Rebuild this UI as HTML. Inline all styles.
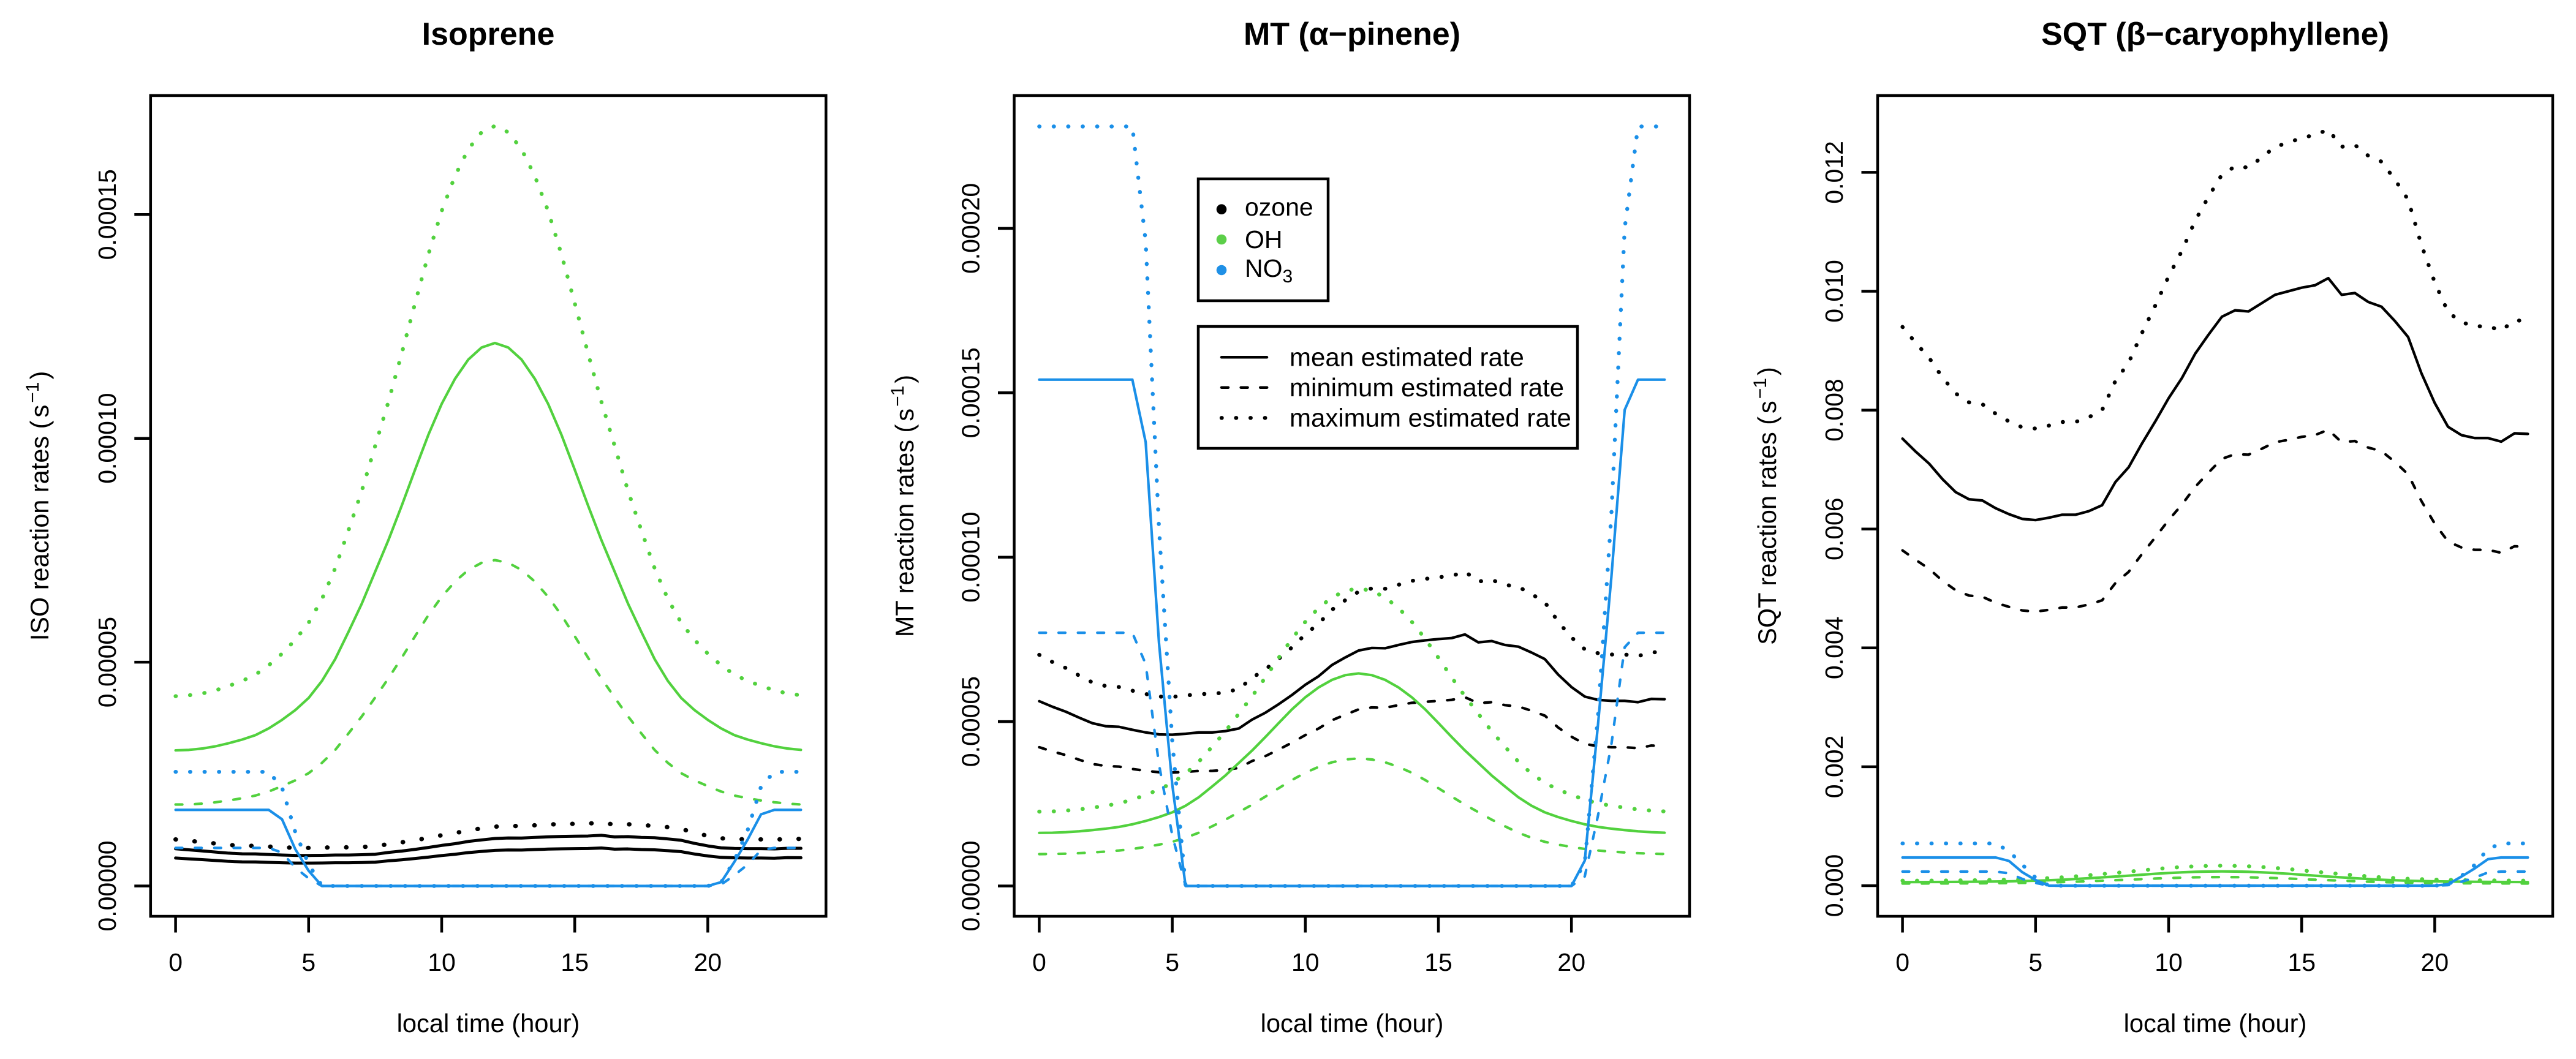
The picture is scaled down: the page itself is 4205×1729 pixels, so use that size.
<!DOCTYPE html>
<html>
<head>
<meta charset="utf-8">
<title>BVOC reaction rates</title>
<style>
html,body{margin:0;padding:0;background:#fff;width:4205px;height:1729px;overflow:hidden}
svg{display:block}
text{font-family:"Liberation Sans",Arial,sans-serif;fill:#000}
</style>
</head>
<body>
<svg id="chart" xmlns="http://www.w3.org/2000/svg" width="4205" height="1729" viewBox="0 0 4205 1729">
  <rect x="0" y="0" width="4205" height="1729" fill="#fff"/>

  <text x="797" y="73" font-size="52" font-weight="bold" text-anchor="middle">Isoprene</text>
  <text x="2207" y="73" font-size="52" font-weight="bold" text-anchor="middle">MT (α−pinene)</text>
  <text x="3616" y="73" font-size="52" font-weight="bold" text-anchor="middle">SQT (β−caryophyllene)</text>

  <text x="797" y="1685" font-size="41.7" text-anchor="middle">local time (hour)</text>
  <text x="2207" y="1685" font-size="41.7" text-anchor="middle">local time (hour)</text>
  <text x="3616" y="1685" font-size="41.7" text-anchor="middle">local time (hour)</text>

  <text transform="translate(79,826) rotate(-90)" font-size="41.5" text-anchor="middle">ISO reaction rates (<tspan dx="5">s</tspan><tspan dy="-16" dx="3" font-size="30">−1</tspan><tspan dy="16" dx="4">)</tspan></text>
  <text transform="translate(1491,826) rotate(-90)" font-size="41.5" text-anchor="middle">MT reaction rates (<tspan dx="5">s</tspan><tspan dy="-16" dx="3" font-size="30">−1</tspan><tspan dy="16" dx="4">)</tspan></text>
  <text transform="translate(2899,826) rotate(-90)" font-size="41.5" text-anchor="middle">SQT reaction rates (<tspan dx="5">s</tspan><tspan dy="-16" dx="3" font-size="30">−1</tspan><tspan dy="16" dx="4">)</tspan></text>

  <g id="plots"></g>

  <g>
    <rect x="1956" y="292" width="212" height="199" fill="#fff" stroke="#000" stroke-width="4.5"/>
    <circle cx="1994" cy="341.7" r="8.3" fill="#000"/>
    <circle cx="1994" cy="391" r="8.3" fill="#5ccf49"/>
    <circle cx="1994" cy="441" r="8.3" fill="#1f90e6"/>
    <text x="2032" y="352" font-size="41">ozone</text>
    <text x="2032" y="405" font-size="41">OH</text>
    <text x="2032" y="452" font-size="41">NO<tspan dy="9" font-size="30">3</tspan></text>
  </g>
  <g>
    <rect x="1956" y="533" width="619" height="199" fill="#fff" stroke="#000" stroke-width="4.5"/>
    <line x1="1994" x2="2068" y1="583.3" y2="583.3" stroke="#000" stroke-width="4.5" stroke-linecap="round"/>
    <line x1="1994" x2="2070" y1="632.7" y2="632.7" stroke="#000" stroke-width="4.5" stroke-linecap="round" stroke-dasharray="11 20.6"/>
    <line x1="1994" x2="2070" y1="682.3" y2="682.3" stroke="#000" stroke-width="6.4" stroke-linecap="round" stroke-dasharray="0.5 23.1"/>
    <text x="2105" y="597.5" font-size="42">mean estimated rate</text>
    <text x="2105" y="647" font-size="42">minimum estimated rate</text>
    <text x="2105" y="696.5" font-size="42">maximum estimated rate</text>
  </g>
</svg>

<script>
const hours = [0,0.5,1,1.5,2,2.5,3,3.5,4,4.5,5,5.5,6,6.5,7,7.5,8,8.5,9,9.5,10,10.5,11,11.5,12,12.5,13,13.5,14,14.5,15,15.5,16,16.5,17,17.5,18,18.5,19,19.5,20,20.5,21,21.5,22,22.5,23,23.5];
const xTickValues = [0,5,10,15,20];
const xTickLabels = ["0","5","10","15","20"];

// Isoprene, in units of 1e-5 s-1
const isoTickValues = [0,5,10,15];
const isoTickLabels = ["0.00000","0.00005","0.00010","0.00015"];
const isoOzoneMean = [0.832,0.807,0.784,0.758,0.733,0.719,0.716,0.703,0.691,0.682,0.681,0.685,0.691,0.691,0.697,0.709,0.749,0.780,0.818,0.860,0.906,0.944,0.995,1.029,1.060,1.072,1.070,1.085,1.098,1.106,1.111,1.116,1.132,1.097,1.103,1.085,1.077,1.051,1.021,0.952,0.895,0.852,0.838,0.833,0.833,0.827,0.842,0.841];
const isoOzoneMin = [0.624,0.605,0.588,0.569,0.550,0.539,0.537,0.527,0.518,0.512,0.511,0.514,0.518,0.518,0.523,0.532,0.562,0.585,0.614,0.645,0.680,0.708,0.746,0.772,0.795,0.804,0.803,0.814,0.824,0.830,0.833,0.837,0.849,0.823,0.827,0.814,0.808,0.788,0.766,0.714,0.671,0.639,0.629,0.625,0.625,0.620,0.632,0.631];
const isoOzoneMax = [1.04,1.009,0.98,0.948,0.916,0.899,0.895,0.879,0.864,0.853,0.851,0.856,0.864,0.864,0.871,0.886,0.936,0.975,1.023,1.075,1.133,1.18,1.244,1.286,1.325,1.34,1.338,1.356,1.373,1.383,1.389,1.395,1.415,1.371,1.379,1.356,1.346,1.314,1.276,1.19,1.119,1.065,1.048,1.041,1.041,1.034,1.053,1.051];
const isoOhMean = [3.03,3.04,3.07,3.12,3.19,3.27,3.37,3.52,3.71,3.93,4.2,4.58,5.07,5.68,6.31,7.02,7.73,8.5,9.3,10.08,10.77,11.33,11.76,12.03,12.13,12.03,11.76,11.33,10.77,10.08,9.3,8.5,7.73,7.02,6.31,5.68,5.07,4.58,4.2,3.93,3.71,3.52,3.37,3.27,3.19,3.12,3.07,3.04];
const isoOhMin = [1.82,1.82,1.84,1.87,1.91,1.96,2.02,2.11,2.23,2.36,2.52,2.75,3.04,3.41,3.79,4.21,4.64,5.10,5.58,6.05,6.46,6.80,7.06,7.22,7.28,7.22,7.06,6.80,6.46,6.05,5.58,5.10,4.64,4.21,3.79,3.41,3.04,2.75,2.52,2.36,2.23,2.11,2.02,1.96,1.91,1.87,1.84,1.82];
const isoOhMax = [4.24,4.26,4.30,4.37,4.47,4.58,4.72,4.93,5.19,5.50,5.88,6.41,7.10,7.95,8.83,9.83,10.82,11.90,13.02,14.11,15.08,15.86,16.46,16.84,16.98,16.84,16.46,15.86,15.08,14.11,13.02,11.90,10.82,9.83,8.83,7.95,7.10,6.41,5.88,5.50,5.19,4.93,4.72,4.58,4.47,4.37,4.30,4.26];
const isoNo3Mean = [1.7,1.7,1.7,1.7,1.7,1.7,1.7,1.7,1.49,0.82,0.34,0,0,0,0,0,0,0,0,0,0,0,0,0,0,0,0,0,0,0,0,0,0,0,0,0,0,0,0,0,0,0.085,0.54,1.04,1.6,1.7,1.7,1.7];
const isoNo3Min = [0.85,0.85,0.85,0.85,0.85,0.85,0.85,0.85,0.745,0.41,0.17,0,0,0,0,0,0,0,0,0,0,0,0,0,0,0,0,0,0,0,0,0,0,0,0,0,0,0,0,0,0,0.032,0.24,0.48,0.8,0.85,0.85,0.85];
const isoNo3Max = [2.55,2.55,2.55,2.55,2.55,2.55,2.55,2.55,2.2,1.2,0.49,0,0,0,0,0,0,0,0,0,0,0,0,0,0,0,0,0,0,0,0,0,0,0,0,0,0,0,0,0,0,0.08,0.57,1.25,2.22,2.55,2.55,2.55];

// Monoterpene, in units of 1e-5 s-1
const mtTickValues = [0,5,10,15,20];
const mtTickLabels = ["0.00000","0.00005","0.00010","0.00015","0.00020"];
const mtOzoneMean = [5.62,5.45,5.30,5.12,4.95,4.86,4.84,4.75,4.67,4.61,4.60,4.63,4.67,4.67,4.71,4.79,5.06,5.27,5.53,5.81,6.12,6.38,6.72,6.95,7.16,7.24,7.23,7.33,7.42,7.47,7.51,7.54,7.65,7.41,7.45,7.33,7.28,7.10,6.90,6.43,6.05,5.76,5.66,5.63,5.63,5.59,5.69,5.68];
const mtOzoneMin = [4.22,4.09,3.98,3.84,3.71,3.65,3.63,3.56,3.50,3.46,3.45,3.47,3.50,3.50,3.53,3.59,3.80,3.95,4.15,4.36,4.59,4.79,5.04,5.21,5.37,5.43,5.42,5.50,5.57,5.60,5.63,5.66,5.74,5.56,5.59,5.50,5.46,5.33,5.18,4.82,4.54,4.32,4.25,4.22,4.22,4.19,4.27,4.26];
const mtOzoneMax = [7.03,6.81,6.63,6.40,6.19,6.08,6.05,5.94,5.84,5.76,5.75,5.79,5.84,5.84,5.89,5.99,6.33,6.59,6.91,7.26,7.65,7.98,8.40,8.69,8.95,9.05,9.04,9.16,9.28,9.34,9.39,9.43,9.56,9.26,9.31,9.16,9.10,8.88,8.63,8.04,7.56,7.20,7.08,7.04,7.04,6.99,7.11,7.10];
const mtOhMean = [1.615,1.62,1.636,1.663,1.70,1.743,1.796,1.876,1.977,2.095,2.239,2.441,2.702,3.027,3.363,3.742,4.12,4.531,4.957,5.373,5.74,6.039,6.268,6.412,6.465,6.412,6.268,6.039,5.74,5.373,4.957,4.531,4.12,3.742,3.363,3.027,2.702,2.441,2.239,2.095,1.977,1.876,1.796,1.743,1.70,1.663,1.636,1.62];
const mtOhMin = [0.969,0.972,0.982,0.998,1.02,1.046,1.078,1.126,1.186,1.257,1.343,1.465,1.621,1.816,2.018,2.245,2.472,2.719,2.974,3.224,3.444,3.623,3.761,3.847,3.879,3.847,3.761,3.623,3.444,3.224,2.974,2.719,2.472,2.245,2.018,1.816,1.621,1.465,1.343,1.257,1.186,1.126,1.078,1.046,1.02,0.998,0.982,0.972];
const mtOhMax = [2.261,2.268,2.29,2.328,2.38,2.44,2.514,2.626,2.768,2.933,3.135,3.417,3.783,4.238,4.708,5.239,5.768,6.343,6.94,7.522,8.036,8.455,8.775,8.977,9.051,8.977,8.775,8.455,8.036,7.522,6.94,6.343,5.768,5.239,4.708,4.238,3.783,3.417,3.135,2.933,2.768,2.626,2.514,2.44,2.38,2.328,2.29,2.268];
const mtNo3Mean = [15.4,15.4,15.4,15.4,15.4,15.4,15.4,15.4,13.5,7.4,3.08,0,0,0,0,0,0,0,0,0,0,0,0,0,0,0,0,0,0,0,0,0,0,0,0,0,0,0,0,0,0,0.77,4.93,9.39,14.48,15.4,15.4,15.4];
const mtNo3Min = [7.7,7.7,7.7,7.7,7.7,7.7,7.7,7.7,6.75,3.7,1.54,0,0,0,0,0,0,0,0,0,0,0,0,0,0,0,0,0,0,0,0,0,0,0,0,0,0,0,0,0,0,0.29,2.15,4.3,7.26,7.7,7.7,7.7];
const mtNo3Max = [23.1,23.1,23.1,23.1,23.1,23.1,23.1,23.1,19.6,10.9,4.4,0,0,0,0,0,0,0,0,0,0,0,0,0,0,0,0,0,0,0,0,0,0,0,0,0,0,0,0,0,0,0.7,5.2,11.3,20.0,23.1,23.1,23.1];

// Sesquiterpene, in units of 1e-3 s-1
const sqtTickValues = [0,2,4,6,8,10,12];
const sqtTickLabels = ["0.000","0.002","0.004","0.006","0.008","0.010","0.012"];
const sqtOzoneMean = [7.52,7.30,7.10,6.84,6.62,6.50,6.48,6.35,6.25,6.17,6.15,6.19,6.24,6.24,6.30,6.40,6.79,7.04,7.44,7.81,8.20,8.54,8.95,9.27,9.57,9.68,9.66,9.80,9.94,10.00,10.06,10.10,10.22,9.94,9.97,9.82,9.74,9.50,9.23,8.62,8.12,7.72,7.58,7.53,7.53,7.47,7.61,7.60];
const sqtOzoneMin = [5.64,5.48,5.33,5.13,4.97,4.88,4.86,4.76,4.69,4.63,4.61,4.64,4.68,4.68,4.73,4.80,5.09,5.28,5.58,5.86,6.15,6.41,6.71,6.95,7.18,7.26,7.25,7.35,7.46,7.50,7.55,7.58,7.67,7.46,7.48,7.37,7.31,7.13,6.92,6.47,6.09,5.79,5.69,5.65,5.65,5.60,5.71,5.70];
const sqtOzoneMax = [9.40,9.13,8.88,8.55,8.28,8.13,8.10,7.94,7.81,7.71,7.69,7.74,7.80,7.80,7.88,8.00,8.49,8.80,9.30,9.76,10.25,10.68,11.19,11.59,11.96,12.10,12.08,12.25,12.43,12.50,12.58,12.63,12.72,12.43,12.46,12.28,12.18,11.88,11.54,10.78,10.15,9.65,9.48,9.41,9.41,9.34,9.51,9.50];
const sqtOhMean = [0.060,0.060,0.061,0.062,0.063,0.065,0.067,0.070,0.073,0.078,0.083,0.091,0.100,0.112,0.125,0.139,0.153,0.168,0.184,0.200,0.213,0.224,0.233,0.238,0.240,0.238,0.233,0.224,0.213,0.200,0.184,0.168,0.153,0.139,0.125,0.112,0.100,0.091,0.083,0.078,0.073,0.070,0.067,0.065,0.063,0.062,0.061,0.060];
const sqtOhMin = [0.036,0.036,0.037,0.037,0.038,0.039,0.040,0.042,0.044,0.047,0.050,0.055,0.060,0.067,0.075,0.083,0.092,0.101,0.110,0.120,0.128,0.134,0.140,0.143,0.144,0.143,0.140,0.134,0.128,0.120,0.110,0.101,0.092,0.083,0.075,0.067,0.060,0.055,0.050,0.047,0.044,0.042,0.040,0.039,0.038,0.037,0.037,0.036];
const sqtOhMax = [0.084,0.084,0.085,0.087,0.088,0.091,0.094,0.098,0.102,0.109,0.116,0.127,0.140,0.157,0.175,0.195,0.214,0.235,0.258,0.280,0.298,0.314,0.326,0.333,0.336,0.333,0.326,0.314,0.298,0.280,0.258,0.235,0.214,0.195,0.175,0.157,0.140,0.127,0.116,0.109,0.102,0.098,0.094,0.091,0.088,0.087,0.085,0.084];
const sqtNo3Mean = [0.474,0.474,0.474,0.474,0.474,0.474,0.474,0.474,0.416,0.227,0.095,0,0,0,0,0,0,0,0,0,0,0,0,0,0,0,0,0,0,0,0,0,0,0,0,0,0,0,0,0,0,0.024,0.152,0.289,0.446,0.474,0.474,0.474];
const sqtNo3Min = [0.237,0.237,0.237,0.237,0.237,0.237,0.237,0.237,0.208,0.114,0.047,0,0,0,0,0,0,0,0,0,0,0,0,0,0,0,0,0,0,0,0,0,0,0,0,0,0,0,0,0,0,0.009,0.066,0.133,0.223,0.237,0.237,0.237];
const sqtNo3Max = [0.71,0.71,0.71,0.71,0.71,0.71,0.71,0.71,0.581,0.354,0.135,0,0,0,0,0,0,0,0,0,0,0,0,0,0,0,0,0,0,0,0,0,0,0,0,0,0,0,0,0,0,0.021,0.16,0.348,0.618,0.71,0.71,0.71];

const SVG_NS = "http://www.w3.org/2000/svg";
const BLACK = "#000000", GREEN = "#52d13e", BLUE = "#1a8fe8";
const PX_PER_HOUR = 43.44, BOX_TOP = 156, BOX_BOTTOM = 1496, TICK = 26.5;

const panels = [
  { key:"isoprene", left:245.8, right:1348.3, x0:286.6, y0:1446.5, yScale:73.08, tickValues:isoTickValues, tickLabels:isoTickLabels,
    ozoneDotGap:"0.5 30.5", ozoneDotWidth:7.2, ozoneSolid:5, ozoneMinDash:null,
    ozone:[isoOzoneMean,isoOzoneMin,isoOzoneMax], oh:[isoOhMean,isoOhMin,isoOhMax], no3:[isoNo3Mean,isoNo3Min,isoNo3Max] },
  { key:"mt", left:1655.5, right:2758, x0:1696.4, y0:1446.5, yScale:53.68, tickValues:mtTickValues, tickLabels:mtTickLabels,
    ozoneDotGap:"0.5 23.1", ozoneDotWidth:6.4, ozoneSolid:4.3, ozoneMinDash:"11 20.6",
    ozone:[mtOzoneMean,mtOzoneMin,mtOzoneMax], oh:[mtOhMean,mtOhMin,mtOhMax], no3:[mtNo3Mean,mtNo3Min,mtNo3Max] },
  { key:"sqt", left:3065, right:4167, x0:3105.6, y0:1446, yScale:97.05, tickValues:sqtTickValues, tickLabels:sqtTickLabels,
    ozoneDotGap:"0.5 23.1", ozoneDotWidth:6.4, ozoneSolid:4.3, ozoneMinDash:"11 20.6",
    ozone:[sqtOzoneMean,sqtOzoneMin,sqtOzoneMax], oh:[sqtOhMean,sqtOhMin,sqtOhMax], no3:[sqtNo3Mean,sqtNo3Min,sqtNo3Max] }
];

function xAxis(p, h){ return p.x0 + h * PX_PER_HOUR; }
function yAxis(p, v){ return p.y0 - v * p.yScale; }

function make(tag, parent){
  const el = document.createElementNS(SVG_NS, tag);
  parent.appendChild(el);
  return el;
}

function drawSeries(p, group, values, color, width, dash, name){
  const pts = values.map(function(v, i){ return xAxis(p, hours[i]).toFixed(2) + "," + yAxis(p, v).toFixed(2); }).join(" ");
  const line = make("polyline", group);
  line.setAttribute("points", pts);
  line.setAttribute("fill", "none");
  line.setAttribute("stroke", color);
  line.setAttribute("stroke-width", width);
  line.setAttribute("stroke-linecap", "round");
  line.setAttribute("stroke-linejoin", "round");
  if (dash) line.setAttribute("stroke-dasharray", dash);
  
  
}

const plots = document.getElementById("plots");
panels.forEach(function(p){
  const g = make("g", plots);
  
  

  const DASH = "11 20.6", DOT = "0.5 23.1";
  drawSeries(p, g, p.ozone[0], BLACK, p.ozoneSolid, null, p.key + "-ozone-mean-line");
  drawSeries(p, g, p.ozone[1], BLACK, p.ozoneSolid, p.ozoneMinDash, p.key + "-ozone-min-line");
  drawSeries(p, g, p.ozone[2], BLACK, p.ozoneDotWidth, p.ozoneDotGap, p.key + "-ozone-max-line");
  drawSeries(p, g, p.oh[0], GREEN, 4.2, null, p.key + "-oh-mean-line");
  drawSeries(p, g, p.oh[1], GREEN, 4.2, DASH, p.key + "-oh-min-line");
  drawSeries(p, g, p.oh[2], GREEN, 6.4, DOT, p.key + "-oh-max-line");
  drawSeries(p, g, p.no3[0], BLUE, 4.2, null, p.key + "-no3-mean-line");
  drawSeries(p, g, p.no3[1], BLUE, 4.2, DASH, p.key + "-no3-min-line");
  drawSeries(p, g, p.no3[2], BLUE, 6.4, DOT, p.key + "-no3-max-line");

  const box = make("rect", g);
  box.setAttribute("x", p.left);
  box.setAttribute("y", BOX_TOP);
  box.setAttribute("width", p.right - p.left);
  box.setAttribute("height", BOX_BOTTOM - BOX_TOP);
  box.setAttribute("fill", "none");
  box.setAttribute("stroke", "#000");
  box.setAttribute("stroke-width", "4.5");
  
  

  xTickValues.forEach(function(t, i){
    const x = xAxis(p, t);
    const tick = make("line", g);
    tick.setAttribute("x1", x);
    tick.setAttribute("x2", x);
    tick.setAttribute("y1", BOX_BOTTOM);
    tick.setAttribute("y2", BOX_BOTTOM + TICK);
    tick.setAttribute("stroke", "#000");
    tick.setAttribute("stroke-width", "4.5");
    
    

    const label = make("text", g);
    label.setAttribute("x", x);
    label.setAttribute("y", 1585);
    label.setAttribute("font-size", "41");
    label.setAttribute("text-anchor", "middle");
    label.textContent = xTickLabels[i];
    
    
  });

  p.tickValues.forEach(function(t, i){
    const y = yAxis(p, t);
    const tick = make("line", g);
    tick.setAttribute("x1", p.left - TICK);
    tick.setAttribute("x2", p.left);
    tick.setAttribute("y1", y);
    tick.setAttribute("y2", y);
    tick.setAttribute("stroke", "#000");
    tick.setAttribute("stroke-width", "4.5");
    
    

    const label = make("text", g);
    label.setAttribute("transform", "translate(" + (p.left - 57) + "," + y + ") rotate(-90)");
    label.setAttribute("font-size", "41");
    label.setAttribute("text-anchor", "middle");
    label.textContent = p.tickLabels[i];
    
    
  });
});
</script>
</body>
</html>
